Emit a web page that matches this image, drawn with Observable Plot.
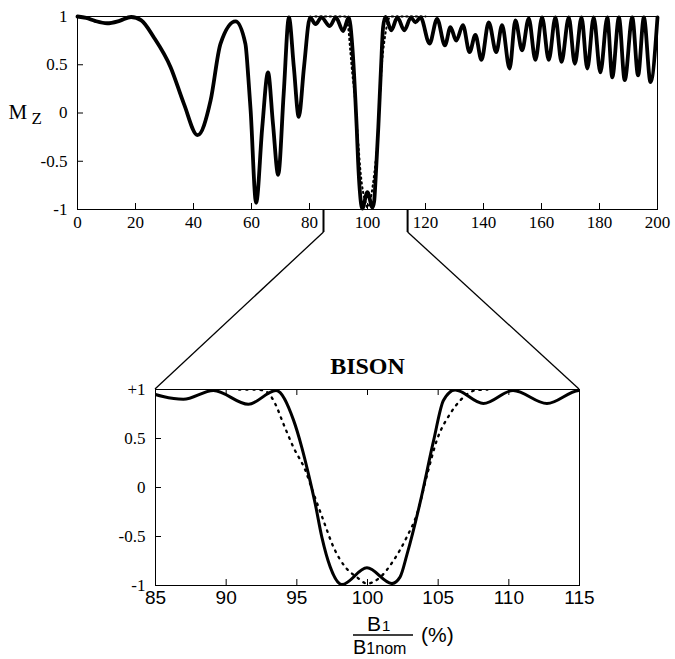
<!DOCTYPE html>
<html><head><meta charset="utf-8">
<script src="https://cdn.jsdelivr.net/npm/d3@7"></script>
<script src="https://cdn.jsdelivr.net/npm/@observablehq/plot@0.6"></script>
<style>
body{margin:0;background:#fff;}
#wrap{position:relative;width:675px;height:659px;overflow:hidden;background:#fff;}
</style></head><body><div id="wrap"></div>
<script>
// ---- data ----
const solidX = [0,3,6,10.2,14.5,18.5,22,26.3,32.1,36.7,41.4,45.9,49.3,54.5,57.9,58.9,59.7,61.6,63.7,65.7,67.4,69.2,71.1,72.9,74.6,76.3,78.1,80.2,82.1,84.1,86.97,89.1,91.57,93.53,94.76,95.35,95.82,96.3,96.77,97.36,98.19,99.96,101.73,102.3,102.8,103.73,104.68,105.38,106.2,108.2,110.3,112.7,115,116.5,118.3,121.4,124,126.7,128.6,130.6,132.9,135.2,137.2,139.3,141.8,144.4,146.4,149,151,153.3,155.6,157.9,160.2,162.5,164.8,166.9,169.4,171.5,173.8,175.8,178,180.3,182.7,184.4,186.7,188.7,191.3,193.3,195.3,197.6,200];
const solidY = [1,0.985,0.955,0.93,0.955,0.995,0.96,0.785,0.475,0.095,-0.23,0.13,0.717,0.95,0.717,0.37,0.026,-0.93,-0.15,0.42,-0.11,-0.64,0.2,0.99,0.475,-0.04,0.475,0.99,0.92,0.99,0.9,0.99,0.85,0.99,0.69,0.41,0.14,-0.165,-0.506,-0.81,-0.99,-0.82,-0.98,-0.915,-0.68,-0.15,0.48,0.89,0.995,0.857,0.99,0.857,0.99,0.94,0.99,0.72,0.975,0.7,0.89,0.75,0.91,0.63,0.81,0.55,0.94,0.63,0.91,0.46,0.96,0.65,0.98,0.55,0.99,0.55,0.99,0.53,0.99,0.51,0.99,0.46,0.99,0.42,0.99,0.37,0.99,0.34,0.99,0.39,0.99,0.32,0.99];
const dottedX = [82,90.9,92.17,92.88,93.46,94.05,94.76,95.59,96.18,96.89,97.6,98.42,99.25,99.96,100.9,101.84,102.8,103.5,104.2,104.9,105.86,106.57,107.6,108.5,120];
const dottedY = [1,1,1,0.975,0.857,0.65,0.41,0.18,-0.06,-0.34,-0.61,-0.81,-0.915,-0.98,-0.915,-0.745,-0.5,-0.27,0.12,0.48,0.755,0.89,0.99,1,1];

const topXTicks = [0,20,40,60,80,100,120,140,160,180,200];
const topYTicks = [-1,-0.5,0,0.5,1];
const topYTickLabels = ["-1","-0.5","0","0.5","1"];
const zoomXTicks = [85,90,95,100,105,110,115];
const zoomYTicks = [-1,-0.5,0,0.5,1];
const zoomYTickLabels = ["-1","-0.5","0","0.5","+1"];
const zoomDomain = [85,115];
const zoomSourceOnTop = [85,114];
const dottedZoomRange = [90.5,108.5];
const zoomTitle = "BISON";

// ---- build tables ----
const solid = solidX.map((x,i)=>({x, y: solidY[i]}));
const dotted = dottedX.map((x,i)=>({x, y: dottedY[i]}));
const solidZoom = solid.filter(d => d.x >= 83 && d.x <= 117);
const dottedZoom = dotted.filter(d => d.x >= dottedZoomRange[0] && d.x <= dottedZoomRange[1]);

const serif = "'Liberation Serif','Times New Roman',serif";
const sans = "'Liberation Sans',Arial,Helvetica,sans-serif";

// ---- top chart ----
const T = {w:675, h:235, ml:77, mr:18, mt:16, mb:26};
const tFrameH = T.h - T.mt - T.mb, tFrameW = T.w - T.ml - T.mr;
const topPlot = Plot.plot({
  width: T.w, height: T.h,
  marginLeft: T.ml, marginRight: T.mr, marginTop: T.mt, marginBottom: T.mb,
  style: {fontFamily: serif, fontSize: "17px", color: "black", background: "white", overflow: "visible"},
  x: {domain: [0,200]},
  y: {domain: [-1,1]},
  marks: [
    Plot.line(solid, {x:"x", y:"y", curve:"monotone-x", stroke:"black", strokeWidth:3.8, strokeLinejoin:"round"}),
    Plot.line(dotted, {x:"x", y:"y", curve:"monotone-x", stroke:"black", strokeWidth:2, strokeDasharray:"1.3,3.5"}),
    Plot.frame({stroke:"black", strokeWidth:1}),
    Plot.tickX(topXTicks, {x:d=>d, insetTop: tFrameH-6, stroke:"black"}),
    Plot.tickY(topYTicks, {y:d=>d, insetRight: tFrameW-6, stroke:"black"}),
    Plot.axisX(topXTicks, {tickSize:0, tickPadding:6, label:null, fontFamily: serif, fontSize:17}),
    Plot.axisY(topYTicks, {tickSize:0, tickPadding:10, label:null, fontFamily: serif, fontSize:17,
      tickFormat: d => topYTickLabels[topYTicks.indexOf(d)]}),
    Plot.text(["M"], {frameAnchor:"left", textAnchor:"start", lineAnchor:"bottom", dx:-69, dy:6, fontFamily: serif, fontSize:21}),
    Plot.text(["Z"], {frameAnchor:"left", textAnchor:"start", lineAnchor:"bottom", dx:-46, dy:11, fontFamily: serif, fontSize:17})
  ]
});

// ---- zoomed chart ----
const B = {top:340, w:675, h:275, ml:155, mr:96, mt:49, mb:30};
const bFrameH = B.h - B.mt - B.mb, bFrameW = B.w - B.ml - B.mr;
const botPlot = Plot.plot({
  width: B.w, height: B.h,
  marginLeft: B.ml, marginRight: B.mr, marginTop: B.mt, marginBottom: B.mb,
  style: {fontFamily: sans, fontSize: "19px", color: "black", background: "transparent", overflow: "visible"},
  x: {domain: zoomDomain},
  y: {domain: [-1,1]},
  marks: [
    Plot.line(solidZoom, {x:"x", y:"y", curve:"monotone-x", stroke:"black", strokeWidth:3, strokeLinejoin:"round", clip:true}),
    Plot.line(dottedZoom, {x:"x", y:"y", curve:"monotone-x", stroke:"black", strokeWidth:2.3, strokeDasharray:"1.6,5.6", clip:true}),
    Plot.frame({stroke:"black", strokeWidth:1}),
    Plot.tickX(zoomXTicks, {x:d=>d, insetTop: bFrameH-6, stroke:"black"}),
    Plot.tickX(zoomXTicks, {x:d=>d, insetBottom: bFrameH-6, stroke:"black"}),
    Plot.tickY(zoomYTicks, {y:d=>d, insetRight: bFrameW-6, stroke:"black"}),
    Plot.axisX(zoomXTicks, {tickSize:0, tickPadding:5, label:null, fontFamily: sans, fontSize:19}),
    Plot.axisY(zoomYTicks, {tickSize:0, tickPadding:10, label:null, fontFamily: serif, fontSize:17,
      tickFormat: d => zoomYTickLabels[zoomYTicks.indexOf(d)]}),
    Plot.text([zoomTitle], {frameAnchor:"top", lineAnchor:"bottom", dy:-16, fontFamily: serif, fontWeight:"bold", fontSize:24})
  ]
});

const wrap = document.getElementById("wrap");
topPlot.style.position = "absolute"; topPlot.style.left = "0px"; topPlot.style.top = "0px";
botPlot.style.position = "absolute"; botPlot.style.left = "0px"; botPlot.style.top = B.top + "px";
wrap.appendChild(topPlot);
wrap.appendChild(botPlot);

// ---- overlay: zoom connectors and x label ----
const tx = topPlot.scale("x"), ty = topPlot.scale("y");
const bx = botPlot.scale("x"), by = botPlot.scale("y");
const overlay = d3.select(wrap).append("svg")
  .attr("width", 675).attr("height", 659)
  .style("position","absolute").style("left","0px").style("top","0px").style("pointer-events","none");
const drop = 23;
[0,1].forEach(i => {
  const x0 = tx.apply(zoomSourceOnTop[i]), y0 = ty.apply(-1);
  const x1 = bx.apply(zoomDomain[i]), y1 = by.apply(1) + B.top;
  overlay.append("line").attr("x1",x0).attr("x2",x0).attr("y1",y0).attr("y2",y0+drop)
    .attr("stroke","black").attr("stroke-width",2);
  overlay.append("line").attr("x1",x0).attr("x2",x1).attr("y1",y0+drop).attr("y2",y1)
    .attr("stroke","black").attr("stroke-width",1.3);
});
// x-axis label: B1 / B1nom (%)
const lab = overlay.append("g").attr("font-family", sans).attr("fill","black");
const num = lab.append("text").attr("x",367).attr("y",631).attr("font-size",21);
num.append("tspan").text("B");
num.append("tspan").attr("font-size",15).attr("dx",1).text("1");
lab.append("line").attr("x1",353).attr("x2",413).attr("y1",635).attr("y2",635).attr("stroke","black").attr("stroke-width",1.5);
const den = lab.append("text").attr("x",353).attr("y",654).attr("font-size",20);
den.append("tspan").text("B");
den.append("tspan").attr("font-size",16).text("1nom");
lab.append("text").attr("x",421).attr("y",642).attr("font-size",21).text("(%)");
</script>
</body></html>
